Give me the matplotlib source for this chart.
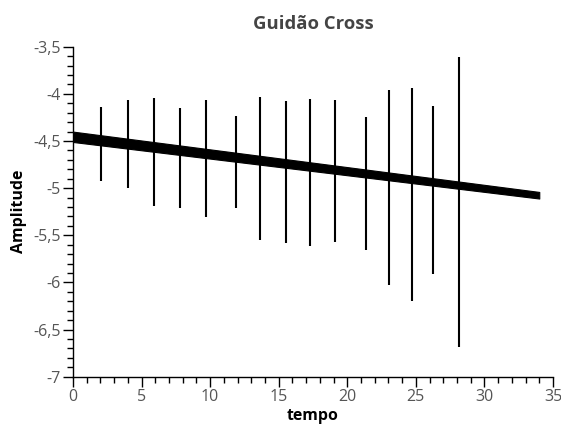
import matplotlib
matplotlib.use("Agg")
import matplotlib.pyplot as plt
from matplotlib.ticker import MultipleLocator, FuncFormatter

plt.rcParams['font.family'] = ['Open Sans', 'DejaVu Sans']

# Band (dense signal) envelope
band_time = [0, 34]
band_upper = [-4.40, -5.04]
band_lower = [-4.51, -5.11]

# Spikes
spike_time = [2.02, 3.99, 5.93, 7.83, 9.68, 11.91, 13.62, 15.51, 17.29, 19.11,
              21.35, 23.07, 24.75, 26.24, 28.15]
spike_top = [-4.14, -4.06, -4.04, -4.15, -4.06, -4.23, -4.03, -4.08, -4.05, -4.06,
             -4.24, -3.96, -3.94, -4.13, -3.61]
spike_bottom = [-4.92, -5.00, -5.19, -5.21, -5.31, -5.21, -5.55, -5.58, -5.61, -5.57,
                -5.66, -6.03, -6.20, -5.91, -6.68]

fig = plt.figure(figsize=(5.61, 4.25), dpi=100)
ax = fig.add_axes([0.130, 0.1136, 0.8557, 0.7764])

ax.fill_between(band_time, band_upper, band_lower, color='black', linewidth=0.8, edgecolor='black')
ax.vlines(spike_time, spike_bottom, spike_top, color='black', linewidth=1.5)

ax.set_xlim(0, 35)
ax.set_ylim(-7, -3.5)
ax.xaxis.set_major_locator(MultipleLocator(5))
ax.xaxis.set_minor_locator(MultipleLocator(1))
ax.yaxis.set_major_locator(MultipleLocator(0.5))
ax.yaxis.set_minor_locator(MultipleLocator(0.1))
fmt = FuncFormatter(lambda v, p: '{:g}'.format(round(v, 2)).replace('.', ','))
ax.xaxis.set_major_formatter(fmt)
ax.yaxis.set_major_formatter(fmt)

for s in ['top', 'right']:
    ax.spines[s].set_visible(False)
for s in ['left', 'bottom']:
    ax.spines[s].set_linewidth(1.0)
    ax.spines[s].set_color('black')

ax.tick_params(which='major', direction='out', length=7, width=1, labelsize=11.5, labelcolor='#555555', pad=2)
ax.tick_params(which='minor', direction='out', length=4.5, width=1)

ax.set_title('Guidão Cross', fontsize=13.3, fontweight='bold', color='#444444', pad=13)
ax.set_xlabel('tempo', fontsize=11.4, fontweight='bold', labelpad=2)
ax.set_ylabel('Amplitude', fontsize=11.4, fontweight='bold', labelpad=4)

fig.savefig('out.png', dpi=100, facecolor='white')
